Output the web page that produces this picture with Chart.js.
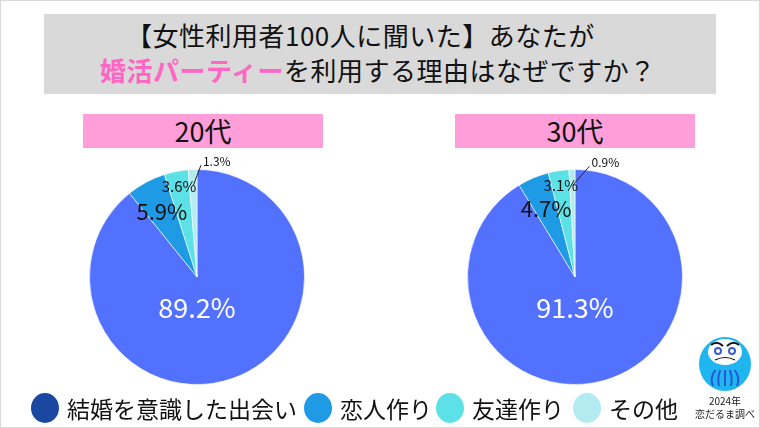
<!DOCTYPE html>
<html>
<head>
<meta charset="utf-8">
<script src="https://cdn.jsdelivr.net/npm/chart.js@4"></script>
<style>
  html, body { margin: 0; padding: 0; background: #fff; }
  body { width: 760px; height: 428px; position: relative; overflow: hidden;
    font-family: "Noto Sans CJK JP", "Noto Sans", sans-serif; color: #111; }
  .frame { position: absolute; left: 0; top: 0; width: 758px; height: 426px; border: 1px solid #d9d9d9; }
  .title { position: absolute; left: 44px; top: 14px; width: 672px; height: 80px; background: #d9d9d9; }
  .t1, .t2 { position: absolute; white-space: nowrap; font-size: 26px; line-height: 32px; }
  .t1 { left: 82px; top: 5px; letter-spacing: 0.5px; }
  .t2 { left: 56px; top: 40px; letter-spacing: 0.5px; }
  .pink { color: #ff66c4; font-weight: bold; }
  .tag { position: absolute; top: 114px; width: 240px; height: 34px; background: #ff9ed8;
    text-align: center; font-size: 27px; line-height: 34px; }
  .pie { position: absolute; }
  .legend { position: absolute; top: 392px; left: 0; height: 32px; }
  .item { position: absolute; top: 0; white-space: nowrap; font-size: 23px; line-height: 32px; }
  .dot { display: inline-block; width: 28px; height: 30px; border-radius: 50%; vertical-align: top; margin-top: 1px; margin-right: 8px; }
  .credit { position: absolute; left: 690px; top: 394px; width: 70px; text-align: center; font-size: 10px; line-height: 13px; color: #222; }
  #daruma { position: absolute; left: 695px; top: 330px; }
</style>
</head>
<body>
<div class="frame"></div>
<div class="title">
  <div class="t1">【女性利用者100人に聞いた】あなたが</div>
  <div class="t2"><span class="pink">婚活パーティー</span>を利用する理由はなぜですか？</div>
</div>
<div class="tag" style="left:83px">20代</div>
<div class="tag" style="left:455px">30代</div>
<canvas id="pie20" class="pie" width="260" height="240" style="left:67px;top:157px"></canvas>
<canvas id="pie30" class="pie" width="260" height="240" style="left:445px;top:157px"></canvas>
<div class="legend" id="legend"></div>
<canvas id="daruma" width="60" height="62"></canvas>
<div class="credit">2024年<br>恋だるま調べ</div>
<script>
const reasons = ["結婚を意識した出会い", "恋人作り", "友達作り", "その他"];
const ages = ["20代", "30代"];
const values20 = [89.2, 5.9, 3.6, 1.3];
const values30 = [91.3, 4.7, 3.1, 0.9];

const sliceColors = ["#5271ff", "#1f9be6", "#5ce1e6", "#b3ebf0"];
const legendColors = ["#1a47a0", "#1f9be6", "#5ce1e6", "#b3ebf0"];

// label style per slice: radius fraction, font size, colour
const labelStyle = [
  { r: 0.29, size: 27, color: "#ffffff" },
  { r: 0.69, size: 22, color: "#111111" },
  { r: 0.86, size: 15, color: "#111111" },
  { r: 0, size: 12, color: "#111111" },
];

const sliceLabels = {
  id: "sliceLabels",
  afterDatasetsDraw(chart, args, opts) {
    const ctx = chart.ctx;
    const arcs = chart.getDatasetMeta(0).data;
    const vals = chart.data.datasets[0].data;
    ctx.save();
    ctx.textAlign = "center";
    ctx.textBaseline = "middle";
    arcs.forEach((arc, i) => {
      const st = labelStyle[i];
      const mid = (arc.startAngle + arc.endAngle) / 2;
      const R = arc.outerRadius;
      const text = vals[i].toFixed(1) + "%";
      ctx.font = st.size + 'px "Noto Sans CJK JP", "Noto Sans", sans-serif';
      ctx.fillStyle = st.color;
      if (i === 0) {
        ctx.fillText(text, arc.x, arc.y + R * st.r);
      } else if (i === 3) {
        const a0 = mid, a1 = -Math.PI / 2 + opts.leadAngle;
        const x0 = arc.x + Math.cos(a0) * R * 0.85, y0 = arc.y + Math.sin(a0) * R * 0.85;
        const x1 = arc.x + Math.cos(a1) * R * 1.04, y1 = arc.y + Math.sin(a1) * R * 1.04;
        ctx.strokeStyle = "#222";
        ctx.lineWidth = 1;
        ctx.beginPath();
        ctx.moveTo(x0, y0);
        ctx.lineTo(x1, y1);
        ctx.stroke();
        ctx.textAlign = "left";
        ctx.fillText(text, x1 + 2, y1 - 4);
        ctx.textAlign = "center";
      } else {
        ctx.fillText(text, arc.x + Math.cos(mid) * R * st.r, arc.y + Math.sin(mid) * R * st.r);
      }
    });
    ctx.restore();
  },
};

const drawPie = (canvas, values, leadAngle) => {
  return new Chart(canvas, {
    type: "pie",
    data: {
      labels: reasons,
      datasets: [
        {
          data: values,
          backgroundColor: sliceColors,
          borderColor: "rgba(255,255,255,0.6)",
          borderWidth: 1,
        },
      ],
    },
    options: {
      responsive: false,
      animation: false,
      layout: { padding: { top: 12, bottom: 12, left: 0, right: 0 } },
      plugins: {
        legend: { display: false },
        tooltip: { enabled: false },
        sliceLabels: { leadAngle },
      },
    },
    plugins: [sliceLabels],
  });
};

drawPie(document.getElementById("pie20"), values20, 0.035);
drawPie(document.getElementById("pie30"), values30, 0.13);

// legend
const legendX = [31, 304, 436, 573];
const legend = document.getElementById("legend");
reasons.forEach((r, i) => {
  const el = document.createElement("div");
  el.className = "item";
  el.style.left = legendX[i] + "px";
  el.innerHTML = '<span class="dot" style="background:' + legendColors[i] + '"></span>' + r;
  legend.appendChild(el);
});

// little daruma mascot
const d = document.getElementById("daruma").getContext("2d");
d.fillStyle = "#1fb6ef";
d.beginPath();
d.ellipse(30, 34, 26, 27, 0, 0, Math.PI * 2);
d.fill();
d.fillStyle = "#ffffff";
d.beginPath();
d.ellipse(30, 22, 17, 13, 0, 0, Math.PI * 2);
d.fill();
d.strokeStyle = "#111";
d.lineWidth = 2;
d.beginPath();
d.moveTo(16, 15); d.quadraticCurveTo(22, 10, 28, 16);
d.moveTo(44, 15); d.quadraticCurveTo(38, 10, 32, 16);
d.stroke();
d.fillStyle = "#3a5bd9";
[[23, 21], [37, 21]].forEach(([x, y]) => {
  d.beginPath(); d.arc(x, y, 4, 0, Math.PI * 2); d.fill();
});
d.fillStyle = "#fff";
[[23, 21], [37, 21]].forEach(([x, y]) => {
  d.beginPath(); d.arc(x, y, 2, 0, Math.PI * 2); d.fill();
});
d.strokeStyle = "#111";
d.lineWidth = 1.2;
d.beginPath();
d.moveTo(20, 30); d.quadraticCurveTo(30, 25, 40, 30);
d.stroke();
d.strokeStyle = "#2857d6";
d.lineWidth = 2;
[-12, -6, 0, 6, 12].forEach((o) => {
  d.beginPath();
  d.moveTo(30 + o * 0.8, 40);
  d.quadraticCurveTo(30 + o * 1.3, 48, 30 + o, 56);
  d.stroke();
});
</script>
</body>
</html>
